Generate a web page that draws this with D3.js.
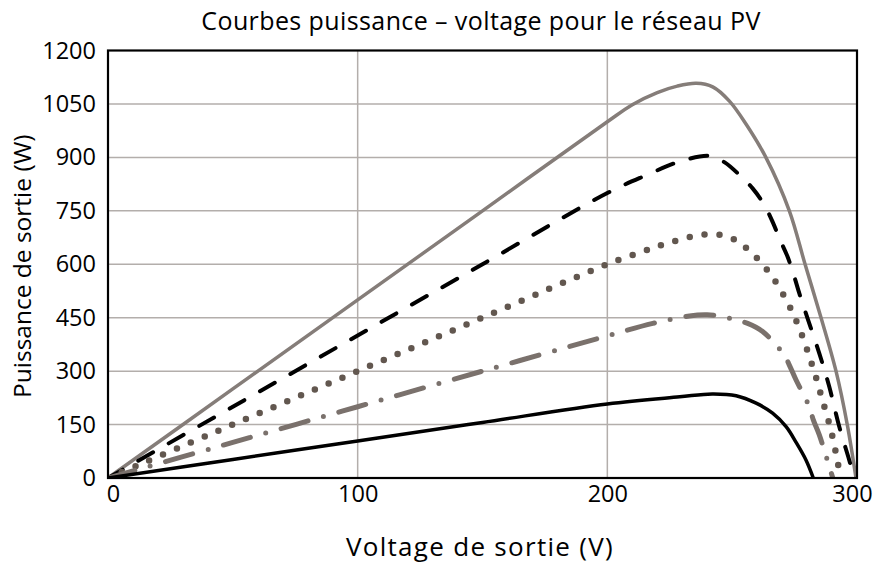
<!DOCTYPE html>
<html>
<head>
<meta charset="utf-8">
<script src="https://cdn.jsdelivr.net/npm/d3@7"></script>
<style>
  html, body { margin: 0; padding: 0; background: #fff; }
  svg text { font-family: "Open Sans", "Noto Sans", sans-serif; fill: #000; }
</style>
</head>
<body>
<svg id="chart" width="881" height="567"></svg>
<script>
// Power–voltage curves of the PV array, one per irradiance level
const xTicks = [0, 100, 200, 300];
const yTicks = [0, 150, 300, 450, 600, 750, 900, 1050, 1200];

// [voltage (V), power (W)]
const curveFull = [[0,0],[50,250],[100,500],[150,750],[200,1000],[210,1048],[220,1082],[228,1100],[235.6,1108],[242.2,1098],[248.9,1058],[255.6,993],[263.5,900],[272.9,750],[279.2,600],[285.6,450],[291.6,300],[296.1,150],[299.6,0]];
const curveHigh = [[0,0],[50,200],[100,400],[150,600],[200,800],[215.6,850],[228.9,888],[241,904],[247,886],[253,850],[258.2,813],[262.9,766],[266.2,719],[268.9,673],[272.2,621],[274.9,565],[276.9,518],[280.2,448],[284.9,350],[288.9,256],[292.9,144],[296.9,50],[298.9,0]];
const curveMid  = [[0,0],[50,150],[100,300],[150,450],[200,600],[215,638],[220.9,652],[226.9,665],[232.9,676],[239.3,684],[245.6,682],[251.3,668],[256.2,642],[260.6,612],[264.9,576],[268.2,542],[271.4,503],[274.2,464],[276.6,425],[278.9,383],[280.9,341],[282.9,298],[284.6,258],[286.2,217],[288,175],[289.6,133],[290.9,93],[292.2,46],[293.5,0]];
const curveLow  = [[0,0],[50,100],[100,200],[150,300],[197,393],[218.2,434],[232.9,455],[240,458],[246,453],[251.6,443],[256.2,434],[262.2,411],[270.9,345],[272.9,317],[275.6,275],[280.9,200],[282.5,163],[284.9,121],[288.9,32],[290.3,0]];
const curveMin  = [[0,0],[50,52],[100,104],[150,156],[200,208],[229,228],[242,236],[251.6,231],[259.6,210],[266.2,182],[271.6,144],[275.6,100],[279.6,50],[282.5,0]];

const series = [
  { name: "1000", data: curveFull, color: "#857d79", width: 3.5, dash: null },
  { name: "800",  data: curveHigh, color: "#000000", width: 4,   dash: "17,18" },
  { name: "600",  data: curveMid,  color: "#62574f", width: 6.5, dash: "0,15" },
  { name: "400",  data: curveLow,  color: "#7a716c", width: 5,   dash: "28,16,0,16" },
  { name: "200",  data: curveMin,  color: "#000000", width: 3.5, dash: null }
];

const svg = d3.select("#chart");
const margin = { left: 108, right: 24, top: 50.5, bottom: 89 };
const W = 881, H = 567;
const x = d3.scaleLinear().domain([0, 300]).range([margin.left, W - margin.right]);
const y = d3.scaleLinear().domain([0, 1200]).range([H - margin.bottom, margin.top]);

svg.append("clipPath").attr("id", "plotClip")
  .append("rect")
  .attr("x", x(0)).attr("y", y(1200))
  .attr("width", x(300) - x(0)).attr("height", y(0) - y(1200));

// grid
svg.append("g").selectAll("line").data(yTicks.slice(1, -1)).join("line")
  .attr("x1", x(0)).attr("x2", x(300))
  .attr("y1", d => y(d)).attr("y2", d => y(d))
  .attr("stroke", "#b3aeab").attr("stroke-width", 1.5);
svg.append("g").selectAll("line").data(xTicks.slice(1, -1)).join("line")
  .attr("y1", y(0)).attr("y2", y(1200))
  .attr("x1", d => x(d)).attr("x2", d => x(d))
  .attr("stroke", "#b3aeab").attr("stroke-width", 1.5);

// curves
const line = d3.line().x(d => x(d[0])).y(d => y(d[1])).curve(d3.curveCatmullRom.alpha(0.5));
svg.append("g").attr("clip-path", "url(#plotClip)")
  .selectAll("path").data(series).join("path")
  .attr("d", d => line(d.data))
  .attr("fill", "none")
  .attr("stroke", d => d.color)
  .attr("stroke-width", d => d.width)
  .attr("stroke-dasharray", d => d.dash)
  .attr("stroke-linecap", "round")
  .attr("stroke-linejoin", "round");

// frame
svg.append("rect")
  .attr("x", x(0)).attr("y", y(1200))
  .attr("width", x(300) - x(0)).attr("height", y(0) - y(1200))
  .attr("fill", "none").attr("stroke", "#000").attr("stroke-width", 2.2);

// axes
const xAxis = d3.axisBottom(x).tickValues(xTicks).tickFormat(d3.format("d")).tickSize(0).tickPadding(7);
const gx = svg.append("g").attr("transform", `translate(0,${y(0)})`).call(xAxis);
gx.select(".domain").remove();
gx.selectAll("text").attr("font-size", 23.5).style("font-family", "'Open Sans', sans-serif")
  .attr("dx", d => d === 0 ? 5 : d === 300 ? -5 : 0);

const yAxis = d3.axisLeft(y).tickValues(yTicks).tickFormat(d3.format("d")).tickSize(0).tickPadding(12);
const gy = svg.append("g").attr("transform", `translate(${x(0)},0)`).call(yAxis);
gy.select(".domain").remove();
gy.selectAll("text").attr("font-size", 23.5).style("font-family", "'Open Sans', sans-serif");

// titles
svg.append("text").attr("x", 481).attr("y", 30).attr("text-anchor", "middle")
  .attr("font-size", 25).attr("letter-spacing", 0.4)
  .text("Courbes puissance – voltage pour le réseau PV");
svg.append("text").attr("x", 480).attr("y", 556).attr("text-anchor", "middle")
  .attr("font-size", 26).attr("letter-spacing", 1.3)
  .text("Voltage de sortie (V)");
svg.append("text").attr("transform", `translate(31,${(y(0) + y(1200)) / 2 + 2}) rotate(-90)`)
  .attr("text-anchor", "middle").attr("font-size", 24.5)
  .text("Puissance de sortie (W)");
</script>
</body>
</html>
